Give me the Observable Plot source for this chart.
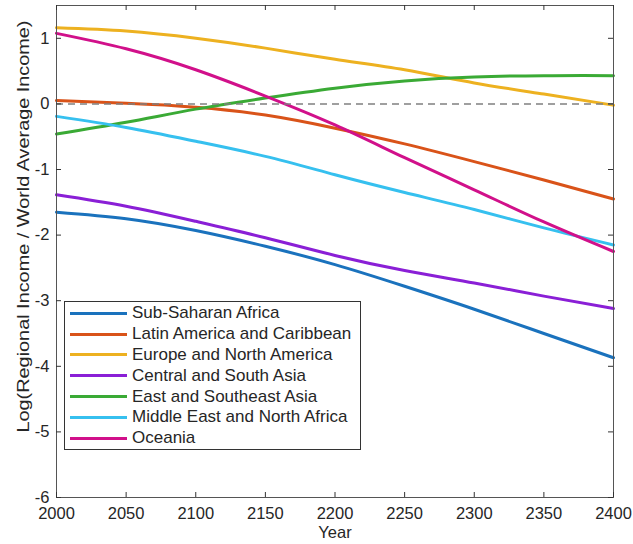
<!DOCTYPE html>
<html><head><meta charset="utf-8">
<script src="https://cdn.jsdelivr.net/npm/d3@7"></script>
<script src="https://cdn.jsdelivr.net/npm/@observablehq/plot@0.6"></script>
<style>
body{margin:0;background:#fff;font-family:"Liberation Sans",Arial,Helvetica,sans-serif;}
#wrap{position:relative;width:633px;height:544px;}
#legend{position:absolute;left:64px;top:301px;width:297px;height:149px;border:1px solid #333;background:#fff;box-sizing:border-box;padding-top:1px;}
.row{display:flex;align-items:center;height:20.8px;font-size:17px;color:#262626;white-space:nowrap;}
.sw{width:57px;height:3px;margin-left:5px;margin-right:5px;}
</style></head>
<body><div id="wrap"><div id="chart"></div><div id="legend"></div></div>
<script>
const years = [2000, 2050, 2100, 2150, 2200, 2250, 2300, 2350, 2400];
const subSaharanAfrica = [-1.65, -1.75, -1.93, -2.17, -2.45, -2.78, -3.13, -3.50, -3.87];
const latinAmerica = [0.05, 0.01, -0.05, -0.17, -0.37, -0.61, -0.88, -1.16, -1.45];
const europeNorthAmerica = [1.16, 1.11, 1.00, 0.85, 0.68, 0.52, 0.32, 0.15, -0.02];
const centralSouthAsia = [-1.385, -1.56, -1.79, -2.04, -2.31, -2.54, -2.73, -2.93, -3.12];
const eastSoutheastAsia = [-0.46, -0.28, -0.08, 0.09, 0.24, 0.35, 0.41, 0.43, 0.43];
const middleEastNorthAfrica = [-0.19, -0.36, -0.57, -0.80, -1.08, -1.35, -1.61, -1.89, -2.15];
const oceania = [1.075, 0.84, 0.52, 0.12, -0.32, -0.82, -1.31, -1.80, -2.25];

const seriesNames = ["Sub-Saharan Africa", "Latin America and Caribbean", "Europe and North America",
  "Central and South Asia", "East and Southeast Asia", "Middle East and North Africa", "Oceania"];
const seriesValues = [subSaharanAfrica, latinAmerica, europeNorthAmerica, centralSouthAsia,
  eastSoutheastAsia, middleEastNorthAfrica, oceania];
const seriesColors = ["#1a72bd", "#d95319", "#edb120", "#8a1fd6", "#3aaa35", "#36c0ef", "#d1108a"];

const xTicks = [2000, 2050, 2100, 2150, 2200, 2250, 2300, 2350, 2400];
const yTicks = [-6, -5, -4, -3, -2, -1, 0, 1];
const xLabel = "Year";
const yLabel = "Log(Regional Income / World Average Income)";

const W = 633, H = 544, mL = 56, mR = 20, mT = 5, mB = 47;
const innerW = W - mL - mR, innerH = H - mT - mB;

const lineMarks = seriesValues.map((vals, i) =>
  Plot.line(years.map((yr, j) => ({year: yr, v: vals[j]})),
    {x: "year", y: "v", stroke: seriesColors[i], strokeWidth: 3, curve: "natural"}));

const chart = Plot.plot({
  width: W, height: H,
  marginLeft: mL, marginRight: mR, marginTop: mT, marginBottom: mB,
  style: {fontFamily: '"Liberation Sans", Arial, sans-serif', fontSize: "16.5px", color: "#262626", background: "white"},
  x: {domain: [2000, 2400]},
  y: {domain: [-6, 1.5]},
  marks: [
    ...lineMarks,
    Plot.ruleY([0], {stroke: "#808080", strokeWidth: 1.5, strokeDasharray: "7,5"}),
    Plot.frame({stroke: "#555"}),
    Plot.tickX(xTicks, {x: d => d, insetTop: innerH - 5, stroke: "#333"}),
    Plot.tickX(xTicks, {x: d => d, insetBottom: innerH - 5, stroke: "#333"}),
    Plot.tickY(yTicks, {y: d => d, insetRight: innerW - 5, stroke: "#333"}),
    Plot.tickY(yTicks, {y: d => d, insetLeft: innerW - 5, stroke: "#333"}),
    Plot.axisX(xTicks, {tickSize: 0, tickPadding: 10, tickFormat: d => String(d),
      label: xLabel, labelAnchor: "center", labelOffset: 40, labelArrow: "none"}),
    Plot.axisY(yTicks, {tickSize: 0, tickPadding: 7, tickFormat: d => String(d), label: null}),
    Plot.text([yLabel], {text: d => d, frameAnchor: "left", rotate: -90, lineAnchor: "bottom",
      textAnchor: "middle", dx: -28, dy: -25, fontSize: 17, fill: "#262626", className: "ylab"})
  ]
});
document.getElementById("chart").appendChild(chart);
chart.querySelectorAll("text").forEach(t => {
  if (t.textContent === yLabel) {
    t.setAttribute("textLength", "412");
    t.setAttribute("lengthAdjust", "spacingAndGlyphs");
  }
});

const legend = document.getElementById("legend");
seriesNames.forEach((name, i) => {
  const row = document.createElement("div");
  row.className = "row";
  const sw = document.createElement("span");
  sw.className = "sw";
  sw.style.background = seriesColors[i];
  const t = document.createElement("span");
  t.textContent = name;
  row.appendChild(sw); row.appendChild(t);
  legend.appendChild(row);
});
</script>
</body></html>
